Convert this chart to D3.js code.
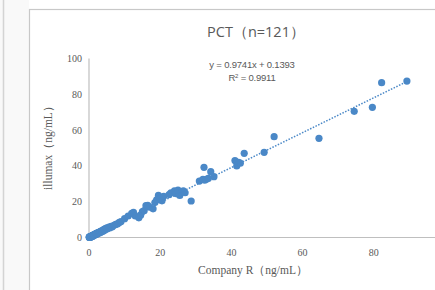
<!DOCTYPE html>
<html>
<head>
<meta charset="utf-8">
<script src="https://cdn.jsdelivr.net/npm/d3@7"></script>
<style>
  html, body { margin: 0; padding: 0; background: #fff; }
  svg { display: block; }
</style>
</head>
<body>
<div id="chart"></div>
<script>
// PCT method comparison: Company R (x) vs illumax (y), ng/mL
var xTicks = [0, 20, 40, 60, 80, 100];
var yTicks = [0, 20, 40, 60, 80, 100];
var slope = 0.9741, intercept = 0.1393;
var title = 'PCT（n=121）';
var eqText = 'y = 0.9741x + 0.1393';
var r2Text = '= 0.9911';

var companyR = [
  0.1, 0.2, 0.3, 0.4, 0.5, 0.6, 0.7, 0.8, 0.9, 1.0, 1.1, 1.2, 1.3, 1.4, 1.5, 1.6, 1.7, 1.8, 1.9, 2.0,
  2.1, 2.2, 2.3, 2.4, 2.5, 2.6, 2.8, 3.0, 3.1, 3.3, 3.4, 3.6, 3.8, 4.0, 4.2, 4.4, 4.6, 4.8, 5.0, 5.3,
  5.6, 5.9, 6.2, 6.5, 7.0, 7.5, 8.0, 8.5, 9.0, 0.15, 0.25, 0.35, 0.45, 0.55, 0.65, 0.75, 0.85, 0.95, 1.05, 1.25,
  1.45, 1.65, 1.85, 2.05, 2.35, 2.7, 3.2, 3.7, 4.3, 0.05, 0.1, 0.3,
  10, 11, 12, 12.5, 13, 14, 14.5, 15, 15.5, 16, 16.5, 17, 18, 18.5, 19, 19.5, 20, 20.5, 21, 22.5,
  23, 24, 24.5, 25, 25.5, 26, 26.5, 27, 28.7, 31, 32, 32.5, 33, 33.5, 32.3, 34.2, 35.1, 41, 42, 41.5,
  42.5, 43.6, 49.2, 52, 64.6, 74.5, 79.6, 82.2, 89.3
];
var illumax = [
  0.2, 0.1, 0.4, 0.3, 0.6, 0.5, 0.8, 0.6, 1.0, 0.9, 1.3, 1.1, 1.4, 1.2, 1.6, 1.5, 1.9, 1.7, 2.1, 1.8,
  2.3, 2.0, 2.5, 2.2, 2.7, 2.4, 2.9, 2.7, 3.3, 3.0, 3.6, 3.3, 4.0, 3.7, 4.5, 4.1, 5.0, 4.6, 5.4, 5.0,
  5.8, 5.5, 6.2, 5.9, 6.8, 7.3, 7.6, 8.4, 8.9, 0.05, 0.3, 0.15, 0.5, 0.35, 0.7, 0.55, 0.9, 0.75, 1.1, 1.0,
  1.5, 1.35, 1.9, 2.05, 2.2, 2.6, 3.1, 3.5, 4.2, 0.1, 0.4, 0.05,
  10.5, 12, 13.5, 14, 12, 11, 12.5, 14.5, 15, 17.8, 18, 17, 16, 19.5, 21, 23.5, 22, 20.5, 23, 24,
  25, 26, 24.5, 26.5, 23.5, 25.5, 26, 25, 20.4, 31.5, 32.5, 32, 32.5, 33, 39.2, 36.8, 34, 43, 42, 40,
  41.5, 47, 47.6, 56.3, 55.4, 70.5, 72.7, 86.5, 87.4
];

var W = 435, H = 290;
var blue = '#4a88c7', grey = '#595959', axisGrey = '#bfbfbf';

var svg = d3.select('#chart').append('svg')
    .attr('width', W).attr('height', H);

// outer panel strip + frame
svg.append('rect').attr('x', 0).attr('y', 0).attr('width', 29).attr('height', H).attr('fill', '#f9f9f9');
svg.append('line').attr('x1', 3.5).attr('x2', 3.5).attr('y1', 0).attr('y2', H)
    .attr('stroke', '#d4d4d4').attr('stroke-width', 1.5);
svg.append('rect').attr('x', 29.5).attr('y', 9.5).attr('width', W).attr('height', H)
    .attr('fill', '#fff').attr('stroke', '#c8c8c8').attr('stroke-width', 1.2);

var x = d3.scaleLinear().domain([0, 100]).range([89, 445]);
var y = d3.scaleLinear().domain([0, 100]).range([237.5, 58.5]);

// axes lines
svg.append('line').attr('x1', x(0)).attr('x2', W).attr('y1', y(0)).attr('y2', y(0))
    .attr('stroke', axisGrey).attr('stroke-width', 1.2);
svg.append('line').attr('x1', x(0)).attr('x2', x(0)).attr('y1', y(0)).attr('y2', y(100))
    .attr('stroke', axisGrey).attr('stroke-width', 1.2);

var serif = '"Liberation Serif", "DejaVu Serif", serif';

svg.append('g').selectAll('text').data(xTicks).join('text')
    .attr('x', function (d) { return x(d); })
    .attr('y', 256)
    .attr('text-anchor', 'middle')
    .attr('font-family', serif).attr('font-size', 10).attr('fill', grey)
    .text(function (d) { return d; });

svg.append('g').selectAll('text').data(yTicks).join('text')
    .attr('x', 82)
    .attr('y', function (d) { return y(d) + 3.5; })
    .attr('text-anchor', 'end')
    .attr('font-family', serif).attr('font-size', 10).attr('fill', grey)
    .text(function (d) { return d; });

// axis titles
svg.append('text').attr('x', 253).attr('y', 274).attr('text-anchor', 'middle')
    .attr('font-family', serif).attr('font-size', 11.5).attr('fill', grey)
    .text('Company R（ng/mL）');
svg.append('text')
    .attr('transform', 'translate(52,145) rotate(-90)')
    .attr('text-anchor', 'middle')
    .attr('font-family', serif).attr('font-size', 11.5).attr('fill', grey)
    .text('illumax（ng/mL）');

// title
svg.append('text').attr('x', 256).attr('y', 37).attr('text-anchor', 'middle')
    .attr('font-family', '"Open Sans", "DejaVu Sans", sans-serif').attr('font-size', 14.5).attr('fill', grey)
    .text(title);

// equation
svg.append('text').attr('x', 252).attr('y', 68).attr('text-anchor', 'middle')
    .attr('font-family', '"Liberation Sans", Arial, sans-serif').attr('font-size', 9.5).attr('fill', grey)
    .attr('letter-spacing', -0.2)
    .text(eqText);
var r2 = svg.append('text').attr('x', 252).attr('y', 81).attr('text-anchor', 'middle')
    .attr('font-family', '"Liberation Sans", Arial, sans-serif').attr('font-size', 9.5).attr('fill', grey)
    .attr('letter-spacing', -0.2);
r2.append('tspan').text('R');
r2.append('tspan').attr('font-size', 6).attr('dy', -3.5).text('2');
r2.append('tspan').attr('dy', 3.5).text(' ' + r2Text);

// points
var pts = companyR.map(function (v, i) { return [v, illumax[i]]; });
svg.append('g').selectAll('circle').data(pts).join('circle')
    .attr('cx', function (d) { return x(d[0]); })
    .attr('cy', function (d) { return y(d[1]); })
    .attr('r', 3.6)
    .attr('fill', blue);

// trendline
var xr = d3.extent(companyR);
svg.append('line')
    .attr('x1', x(xr[0])).attr('y1', y(slope * xr[0] + intercept))
    .attr('x2', x(xr[1])).attr('y2', y(slope * xr[1] + intercept))
    .attr('stroke', blue).attr('stroke-width', 1.5)
    .attr('stroke-dasharray', '1.5,1.5');
</script>
</body>
</html>
